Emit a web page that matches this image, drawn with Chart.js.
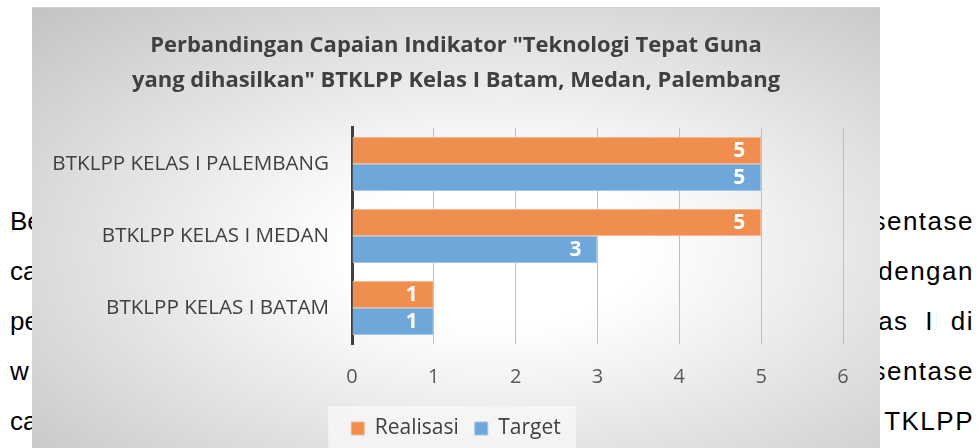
<!DOCTYPE html>
<html>
<head>
<meta charset="utf-8">
<script src="https://cdn.jsdelivr.net/npm/chart.js@4"></script>
<style>
    html, body { margin: 0; padding: 0; background: #fff; }
    body { width: 979px; height: 448px; position: relative; overflow: hidden; font-family: "Liberation Sans", Arial, sans-serif; }
    .doc-left, .doc-right { position: absolute; top: 196px; font-size: 26px; line-height: 50px; color: #000; }
    .doc-left { left: 10px; }
    .doc-right { right: 5px; text-align: right; word-spacing: 8px; letter-spacing: 1.5px; }
    .chart-box {
        position: absolute; left: 32px; top: 7px; width: 848px; height: 441px;
        border-top: 1px solid #d0d0d0;
        background: radial-gradient(ellipse farthest-corner at 55% 55%, #ffffff 0%, #ffffff 22%, #f2f2f2 40%, #c3c3c3 100%);
    }
    canvas { display: block; }
</style>
</head>
<body>
<div class="doc-left">Be<br>ca<br>pe<br>w<br>ca</div>
<div class="doc-right">sentase<br>dengan<br>as I di<br>sentase<br>TKLPP</div>
<div class="chart-box"><canvas id="chart" width="848" height="441"></canvas></div>
<script>
(function() {
    'use strict';

    // Chart data
    var categories = ['BTKLPP KELAS I PALEMBANG', 'BTKLPP KELAS I MEDAN', 'BTKLPP KELAS I BATAM'];
    var realisasi = [5, 5, 1];
    var target = [5, 3, 1];
    var xTicks = [0, 1, 2, 3, 4, 5, 6];
    var titleLines = ['Perbandingan Capaian Indikator "Teknologi Tepat Guna', 'yang dihasilkan" BTKLPP Kelas I Batam, Medan, Palembang'];

    var textColor = '#404040';
    var fontFamily = '"Open Sans", sans-serif';

    /**
     * Value labels drawn inside the end of each bar
     */
    var barLabels = {
        id: 'barLabels',
        afterDatasetsDraw: function(chart) {
            var ctx = chart.ctx;
            ctx.save();
            ctx.font = 'bold 21px ' + fontFamily;
            ctx.fillStyle = '#ffffff';
            ctx.textAlign = 'right';
            ctx.textBaseline = 'middle';
            chart.data.datasets.forEach(function(ds, i) {
                chart.getDatasetMeta(i).data.forEach(function(bar, j) {
                    ctx.fillText(String(ds.data[j]), bar.x - 16, bar.y + 1);
                });
            });
            ctx.restore();
        }
    };

    /**
     * Light box behind the legend items
     */
    var legendBox = {
        id: 'legendBox',
        beforeDraw: function(chart) {
            var legend = chart.legend;
            if (!legend || !legend.legendHitBoxes.length) {
                return;
            }
            var boxes = legend.legendHitBoxes;
            var minX = boxes[0].left;
            var maxX = boxes[boxes.length - 1].left + boxes[boxes.length - 1].width;
            var ctx = chart.ctx;
            ctx.save();
            ctx.fillStyle = 'rgba(248, 248, 248, 0.8)';
            ctx.fillRect(minX - 23, legend.top + 4, (maxX - minX) + 38, legend.height - 4);
            ctx.restore();
        }
    };

    new Chart(document.getElementById('chart').getContext('2d'), {
        type: 'bar',
        data: {
            labels: categories,
            datasets: [{
                label: 'Realisasi',
                data: realisasi,
                backgroundColor: '#EF8E4F',
                borderColor: '#F6B78C',
                borderWidth: 1,
                categoryPercentage: 0.75,
                barPercentage: 1.0
            }, {
                label: 'Target',
                data: target,
                backgroundColor: '#6FA7DA',
                borderColor: '#A3C7E8',
                borderWidth: 1,
                categoryPercentage: 0.75,
                barPercentage: 1.0
            }]
        },
        options: {
            indexAxis: 'y',
            responsive: false,
            animation: false,
            layout: { padding: 0 },
            scales: {
                x: {
                    min: xTicks[0],
                    max: xTicks[xTicks.length - 1],
                    ticks: {
                        stepSize: 1,
                        padding: 21,
                        color: '#595959',
                        font: { family: fontFamily, size: 20 }
                    },
                    grid: { color: '#bfbfbf', lineWidth: 1, drawTicks: false },
                    border: { display: false },
                    afterFit: function(scale) { scale.height = 58; }
                },
                y: {
                    ticks: {
                        padding: 23,
                        color: textColor,
                        font: { family: fontFamily, size: 20.6 }
                    },
                    grid: { display: false, drawTicks: false },
                    border: { display: true, color: '#404040', width: 3 },
                    afterFit: function(scale) { scale.width = 320; }
                },
                // empty spacer on the right so the title and legend stay centred
                spacer: {
                    type: 'category',
                    position: 'right',
                    ticks: { display: false },
                    grid: { display: false, drawTicks: false },
                    border: { display: false },
                    afterFit: function(scale) { scale.width = 37; }
                }
            },
            plugins: {
                title: {
                    display: true,
                    text: titleLines,
                    color: textColor,
                    font: { family: fontFamily, size: 22, weight: 'bold', lineHeight: 1.59 },
                    padding: { top: 20, bottom: 30 }
                },
                legend: {
                    position: 'bottom',
                    labels: {
                        boxWidth: 13,
                        boxHeight: 13,
                        padding: 16,
                        color: textColor,
                        font: { family: fontFamily, size: 21 }
                    }
                },
                tooltip: { enabled: false }
            }
        },
        plugins: [legendBox, barLabels]
    });
})();
</script>
</body>
</html>
